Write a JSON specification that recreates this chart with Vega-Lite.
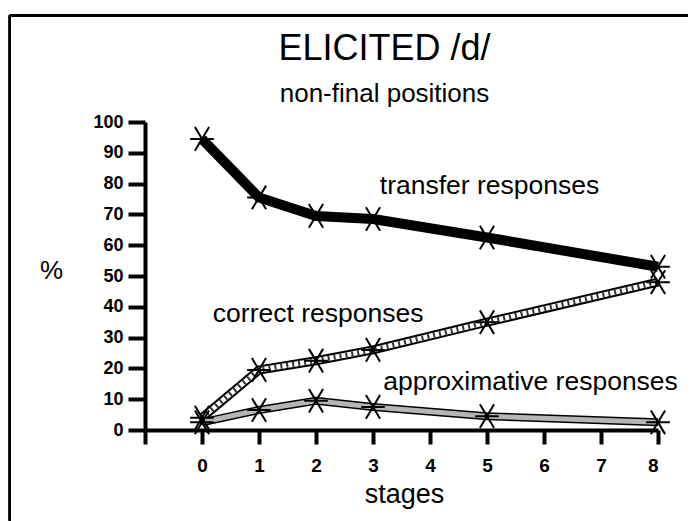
{
  "$schema": "https://vega.github.io/schema/vega-lite/v6.json",
  "autosize": "none",
  "width": 513,
  "height": 308,
  "padding": {"left": 145, "top": 122, "right": 34, "bottom": 91},
  "background": "white",
  "config": {
    "view": {"stroke": null},
    "font": "Liberation Sans",
    "axis": {"grid": false, "domainColor": "black", "tickColor": "black", "domainWidth": 4, "tickWidth": 4, "labelColor": "black", "titleColor": "black", "labelFont": "Liberation Sans", "titleFont": "Liberation Sans", "labelFontWeight": "bold", "titleFontWeight": "normal"}
  },
  "title": {
    "text": "ELICITED /d/",
    "subtitle": "non-final positions",
    "fontSize": 36,
    "fontWeight": "normal",
    "subtitleFontSize": 26,
    "subtitleColor": "black",
    "color": "black",
    "subtitlePadding": 13,
    "font": "Liberation Sans",
    "subtitleFont": "Liberation Sans",
    "anchor": "middle",
    "frame": "group",
    "dx": -17,
    "offset": -94
  },
  "datasets": {
    "series": [
      {"series": "transfer", "stage": 0, "pct": 94.5},
      {"series": "transfer", "stage": 1, "pct": 75.5},
      {"series": "transfer", "stage": 2, "pct": 69.5},
      {"series": "transfer", "stage": 3, "pct": 68.5},
      {"series": "transfer", "stage": 5, "pct": 62.5},
      {"series": "transfer", "stage": 8, "pct": 53},
      {"series": "correct", "stage": 0, "pct": 4},
      {"series": "correct", "stage": 1, "pct": 19.5},
      {"series": "correct", "stage": 2, "pct": 22.5},
      {"series": "correct", "stage": 3, "pct": 26},
      {"series": "correct", "stage": 5, "pct": 35},
      {"series": "correct", "stage": 8, "pct": 48},
      {"series": "approximative", "stage": 0, "pct": 2.5},
      {"series": "approximative", "stage": 1, "pct": 6.5},
      {"series": "approximative", "stage": 2, "pct": 9.5},
      {"series": "approximative", "stage": 3, "pct": 7.5},
      {"series": "approximative", "stage": 5, "pct": 4.5},
      {"series": "approximative", "stage": 8, "pct": 2.5}
    ],
    "labels": [
      {"text": "transfer responses", "stage": 3.12, "pct": 76.6},
      {"text": "correct responses", "stage": 0.19, "pct": 35.2},
      {"text": "approximative responses", "stage": 3.18, "pct": 13.0}
    ]
  },
  "data": {"name": "series"},
  "encoding": {
    "x": {"field": "stage", "type": "quantitative", "scale": {"domain": [-1, 8], "nice": false, "zero": false},
      "axis": {"values": [-1, 0, 1, 2, 3, 4, 5, 6, 7, 8], "labelExpr": "datum.value < 0 ? '' : datum.label", "tickSize": 14, "labelPadding": 12, "labelFontSize": 19, "title": "stages", "titleFontSize": 27, "titleX": 259, "titleY": 72, "titleBaseline": "alphabetic", "titleAlign": "center"}},
    "y": {"field": "pct", "type": "quantitative", "scale": {"domain": [0, 100], "nice": false},
      "axis": {"values": [0, 10, 20, 30, 40, 50, 60, 70, 80, 90, 100], "tickSize": 17, "labelPadding": 5, "labelFontSize": 18, "title": "%", "titleFontSize": 26, "titleAngle": 0, "titleX": -94, "titleY": 148, "titleAlign": "center", "titleBaseline": "middle"}}
  },
  "layer": [
    {
      "mark": {"type": "rule", "stroke": "black", "strokeWidth": 2},
      "encoding": {
        "x": {"datum": -3.37, "type": "quantitative"},
        "y": {"datum": 134.6, "type": "quantitative"},
        "y2": {"datum": -29.5}
      }
    },
    {
      "mark": {"type": "rule", "stroke": "black", "strokeWidth": 2},
      "encoding": {
        "x": {"datum": -3.37, "type": "quantitative"},
        "x2": {"datum": 8.52},
        "y": {"datum": 134.6, "type": "quantitative"}
      }
    },
    {
      "transform": [{"filter": "datum.series === 'transfer'"}],
      "mark": {"type": "line", "color": "black", "strokeWidth": 10, "strokeJoin": "round"}
    },
    {
      "transform": [{"filter": "datum.series === 'correct'"}],
      "mark": {"type": "line", "color": "black", "strokeWidth": 9}
    },
    {
      "transform": [{"filter": "datum.series === 'correct'"}],
      "mark": {"type": "line", "color": "white", "strokeWidth": 5}
    },
    {
      "transform": [{"filter": "datum.series === 'correct'"}],
      "mark": {"type": "line", "color": "#333333", "strokeWidth": 5, "strokeDash": [2, 4]}
    },
    {
      "transform": [{"filter": "datum.series === 'approximative'"}],
      "mark": {"type": "line", "color": "black", "strokeWidth": 8}
    },
    {
      "transform": [{"filter": "datum.series === 'approximative'"}],
      "mark": {"type": "line", "color": "#b5b5b5", "strokeWidth": 5}
    },
    {
      "mark": {"type": "point", "shape": "M-0.6,-1L0.6,1M-0.6,1L0.6,-1M-1,0L1,0", "size": 560, "filled": false, "stroke": "black", "strokeWidth": 2, "opacity": 1}
    },
    {
      "data": {"name": "labels"},
      "mark": {"type": "text", "align": "left", "baseline": "alphabetic", "fontSize": 26.5, "font": "Liberation Sans", "color": "black"},
      "encoding": {"text": {"field": "text"}}
    }
  ]
}
